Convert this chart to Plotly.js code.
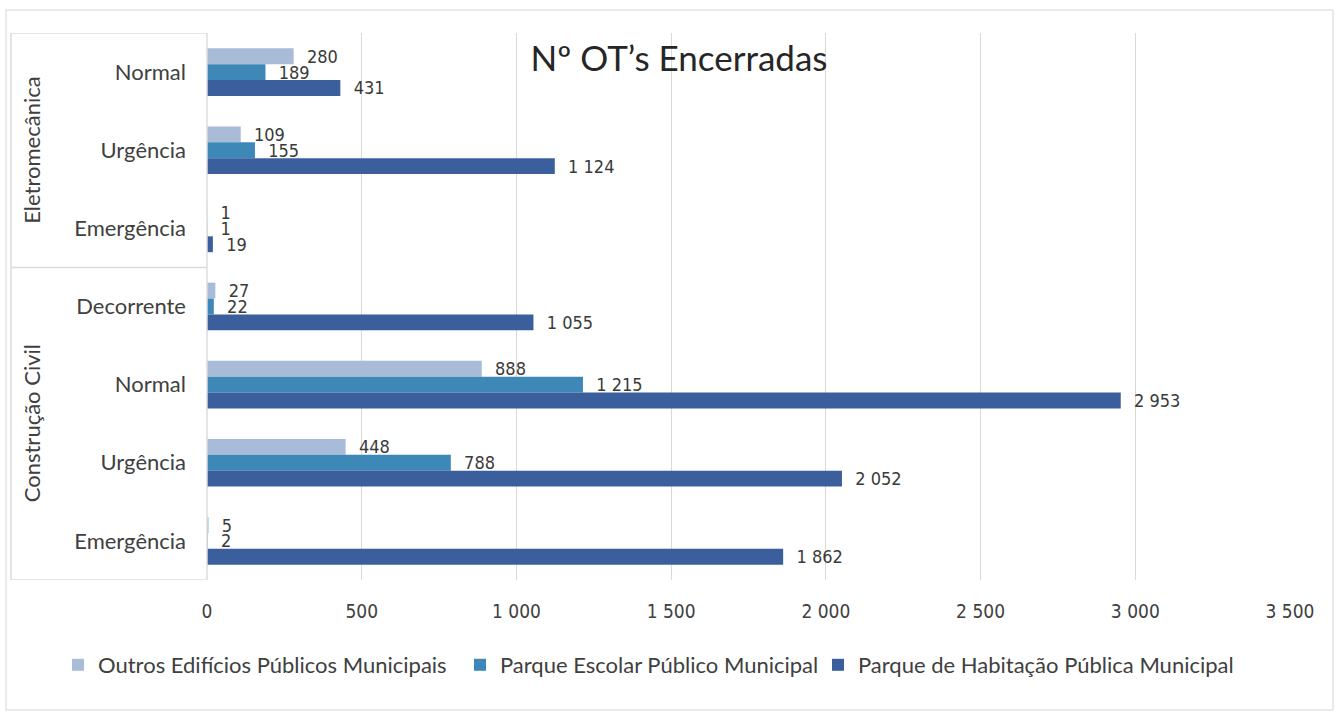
<!DOCTYPE html>
<html>
<head>
<meta charset="utf-8">
<script src="https://cdn.plot.ly/plotly-3.0.1.min.js"></script>
<style>
  html, body { margin: 0; padding: 0; background: #ffffff; }
  #chart { width: 1338px; height: 719px; }
</style>
</head>
<body>
<div id="chart"></div>
<script>
// ---- data ----
const groups = ["Eletromecânica", "Eletromecânica", "Eletromecânica",
                "Construção Civil", "Construção Civil", "Construção Civil", "Construção Civil"];
const categories = ["Normal", "Urgência", "Emergência", "Decorrente", "Normal", "Urgência", "Emergência"];
const seriesNames = ["Outros Edifícios Públicos Municipais",
                     "Parque Escolar Público Municipal",
                     "Parque de Habitação Pública Municipal"];
const outros    = [280, 109, 1, 27, 888, 448, 5];
const escolar   = [189, 155, 1, 22, 1215, 788, 2];
const habitacao = [431, 1124, 19, 1055, 2953, 2052, 1862];
const xTicks = [0, 500, 1000, 1500, 2000, 2500, 3000, 3500];
const chartTitle = "Nº OT’s Encerradas";

// ---- styling ----
const colors = ["#a8bbd7", "#3e88b8", "#3b5e9d"];
const narrow = "'Liberation Sans Narrow', 'DejaVu Sans Condensed', 'Liberation Sans', sans-serif";
const round = "Lato, 'Noto Sans', sans-serif";
const legendIds = ["legend", "legend2", "legend3"];
const legendLeftPx = [58, 460, 818];

const fmt = v => String(v).replace(/\B(?=(\d{3})+(?!\d))/g, " ");
const pos = categories.map((c, i) => i);

const seriesValues = [outros, escolar, habitacao];
const traces = seriesValues.map((vals, k) => ({
  type: "bar",
  orientation: "h",
  name: seriesNames[k],
  legend: legendIds[k],
  x: vals,
  y: pos,
  marker: { color: colors[k] },
  text: vals.map(v => "\u00a0\u00a0" + fmt(v)),
  textposition: "outside",
  constraintext: "none",
  cliponaxis: false,
  textfont: { family: narrow, size: 18, color: "#3a3a3a" },
  hoverinfo: "x+name"
}));

// group label annotations & divider lines
const groupNames = [...new Set(groups)];
const annotations = groupNames.map(g => {
  const idx = pos.filter(i => groups[i] === g);
  const mid = (idx[0] + idx[idx.length - 1]) / 2;
  return {
    xref: "paper", yref: "y", x: -0.162, y: mid,
    text: g, showarrow: false, textangle: -90,
    xanchor: "center", yanchor: "middle",
    font: { family: round, size: 22, color: "#404040" }
  };
});

const lineC = "#dcdcdc";
const tableLeft = -0.181;
const shapes = [
  { type: "line", xref: "paper", yref: "y", x0: tableLeft, x1: 0, y0: -0.5, y1: -0.5, line: { color: lineC, width: 1.5 } },
  { type: "line", xref: "paper", yref: "y", x0: tableLeft, x1: 0, y0: categories.length - 0.5, y1: categories.length - 0.5, line: { color: lineC, width: 1.5 } },
  { type: "line", xref: "paper", yref: "y", x0: tableLeft, x1: tableLeft, y0: -0.5, y1: categories.length - 0.5, line: { color: lineC, width: 1.5 } },
  { type: "line", xref: "paper", yref: "y", x0: 0, x1: 0, y0: -0.5, y1: categories.length - 0.5, line: { color: lineC, width: 1.5 } }
];
for (let i = 1; i < groups.length; i++) {
  if (groups[i] !== groups[i - 1]) {
    shapes.push({ type: "line", xref: "paper", yref: "y", x0: tableLeft, x1: 0, y0: i - 0.5, y1: i - 0.5, line: { color: lineC, width: 1.5 } });
  }
}
shapes.push({ type: "rect", xref: "paper", yref: "paper", x0: -0.1855, x1: 1.0397, y0: -0.2377, y1: 1.042, line: { color: "#e4e4e4", width: 1.5 }, layer: "below" });

const layout = {
  width: 1338, height: 719,
  paper_bgcolor: "#ffffff", plot_bgcolor: "#ffffff",
  margin: { l: 207, r: 48, t: 33, b: 139 },
  separators: ", ",
  barmode: "group",
  bargap: 0.39,
  bargroupgap: 0,
  title: {
    text: chartTitle,
    x: 679 / 1338, xref: "container", xanchor: "center",
    y: 1 - 59 / 719, yref: "container", yanchor: "middle",
    font: { family: round, size: 35, color: "#262626" }
  },
  xaxis: {
    range: [0, 3500],
    tickvals: xTicks,
    ticktext: xTicks.map(fmt),
    showgrid: true, gridcolor: "#d9d9d9", gridwidth: 1,
    zeroline: false, showline: false,
    ticks: "",
    ticklabelstandoff: 18,
    tickfont: { family: narrow, size: 19, color: "#404040" },
    fixedrange: true
  },
  yaxis: {
    range: [categories.length - 0.5, -0.5],
    tickvals: pos,
    ticktext: categories,
    showgrid: false, zeroline: false, showline: false,
    ticks: "",
    ticklabelstandoff: 20,
    tickfont: { family: round, size: 22, color: "#404040" },
    fixedrange: true
  },
  annotations: annotations,
  shapes: shapes,
  showlegend: true
};
legendIds.forEach((id, k) => {
  layout[id] = {
    orientation: "h",
    xref: "container", yref: "container",
    x: legendLeftPx[k] / 1338, xanchor: "left",
    y: 1 - 665 / 719, yanchor: "middle",
    font: { family: round, size: 22, color: "#404040" },
    itemwidth: 30,
    bgcolor: "rgba(0,0,0,0)"
  };
});

Plotly.newPlot("chart", traces, layout, { displayModeBar: false, staticPlot: true });
</script>
</body>
</html>
